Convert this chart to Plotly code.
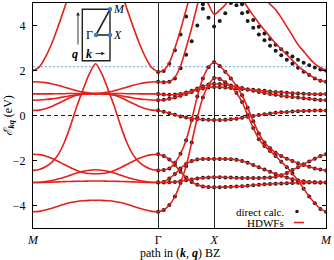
import numpy as np
import plotly.graph_objects as go

# ---------------- path geometry (|MΓ| : |ΓX| : |XM| = √5 : 1 : 2) -------------
K_GAMMA = 5 ** 0.5
K_X = K_GAMMA + 1.0
K_M = K_X + 2.0
tick_vals = [0.0, K_GAMMA, K_X, K_M]
tick_text = ["<i>M</i>", "Γ", "<i>X</i>", "<i>M</i>"]
y_ticks = [-4, -2, 0, 2, 4]
E_BLUE_LINE = 2.17

# sampling grids along the path
k_left = np.linspace(0.0, K_GAMMA, 21)                       # M -> Γ
k_right = np.concatenate([np.linspace(K_GAMMA, K_X, 11),
                          np.linspace(K_X, K_M, 21)[1:]])     # Γ -> X -> M

# ---------------- HDWF bands, M -> Γ segment (eV) -------------------------
L_B1 = [2.0, 2.15, 2.6, 3.2, 3.95, 4.75, 5.6, 6.3, 6.8, 7.1, 7.2, 7.1, 6.8, 6.3, 5.6, 4.75, 3.95, 3.2, 2.58, 2.12, 1.93]
L_B2 = [-2.44, -2.4, -2.28, -2.08, -1.75, -1.2, -0.45, 0.4, 1.15, 1.85, 2.3, 1.85, 1.15, 0.4, -0.45, -1.2, -1.75, -2.08, -2.28, -2.4, -2.44]
L_C1 = [1.5, 1.49, 1.46, 1.41, 1.34, 1.26, 1.18, 1.1, 1.04, 1.0, 0.99, 1.0, 1.04, 1.1, 1.18, 1.26, 1.34, 1.41, 1.46, 1.49, 1.5]
L_C2 = [0.96, 0.96, 0.96, 0.96, 0.97, 0.97, 0.98, 0.98, 0.98, 0.98, 0.98, 0.98, 0.98, 0.98, 0.98, 0.97, 0.97, 0.96, 0.96, 0.96, 0.96]
L_C3 = [0.68, 0.69, 0.71, 0.74, 0.78, 0.83, 0.88, 0.92, 0.95, 0.96, 0.96, 0.96, 0.95, 0.92, 0.88, 0.83, 0.78, 0.74, 0.71, 0.69, 0.68]
L_C4 = [0.22, 0.24, 0.3, 0.4, 0.53, 0.67, 0.8, 0.9, 0.95, 0.96, 0.96, 0.96, 0.95, 0.9, 0.8, 0.67, 0.53, 0.4, 0.3, 0.24, 0.22]
L_D1 = [-1.72, -1.74, -1.8, -1.9, -2.03, -2.18, -2.32, -2.44, -2.53, -2.58, -2.59, -2.58, -2.53, -2.44, -2.32, -2.18, -2.03, -1.9, -1.8, -1.74, -1.72]
L_D2 = [-2.98, -2.97, -2.94, -2.89, -2.82, -2.74, -2.65, -2.56, -2.48, -2.43, -2.41, -2.43, -2.48, -2.56, -2.65, -2.74, -2.82, -2.89, -2.94, -2.97, -2.98]
L_D3 = [-2.98, -2.98, -2.97, -2.96, -2.95, -2.94, -2.93, -2.92, -2.92, -2.91, -2.91, -2.91, -2.92, -2.92, -2.93, -2.94, -2.95, -2.96, -2.97, -2.98, -2.98]
L_D4 = [-4.28, -4.26, -4.2, -4.12, -4.03, -3.94, -3.87, -3.82, -3.79, -3.77, -3.77, -3.77, -3.79, -3.82, -3.87, -3.94, -4.03, -4.12, -4.2, -4.26, -4.28]

# ---------------- HDWF bands, Γ -> X -> M segment (eV) ---------------------
R_B1 = [1.93, 2.0, 2.35, 3.0, 3.8, 4.7, 5.6, 6.4, 7.0, 7.4, 7.5, 7.4, 7.2, 6.9, 6.6, 6.3, 6.0, 5.7, 5.45, 5.2, 4.95, 4.7, 4.35, 3.95, 3.55, 3.15, 2.85, 2.55, 2.3, 2.12, 2.0]
R_C1 = [1.5, 1.48, 1.5, 1.7, 2.2, 3.0, 3.9, 4.9, 5.8, 6.5, 6.8, 6.7, 6.4, 6.0, 5.6, 5.2, 4.8, 4.45, 4.1, 3.8, 3.5, 3.2, 2.95, 2.7, 2.45, 2.2, 2.0, 1.82, 1.66, 1.55, 1.5]
R_B2 = [-2.44, -2.42, -2.35, -2.1, -1.7, -1.1, -0.2, 0.85, 1.65, 2.15, 2.37, 2.2, 1.95, 1.65, 1.3, 0.9, 0.35, -0.25, -0.8, -1.2, -1.45, -1.65, -1.8, -1.92, -2.02, -2.12, -2.2, -2.28, -2.35, -2.4, -2.44]
R_D4 = [-4.28, -4.2, -3.98, -3.6, -3.0, -2.25, -1.2, -0.1, 0.8, 1.35, 1.67, 1.62, 1.48, 1.3, 1.0, 0.6, 0.02, -0.55, -1.05, -1.35, -1.58, -1.8, -2.05, -2.3, -2.58, -2.9, -3.25, -3.6, -3.9, -4.15, -4.28]
R_C2 = [0.96, 0.93, 0.92, 0.93, 0.96, 1.02, 1.1, 1.2, 1.3, 1.38, 1.41, 1.4, 1.37, 1.33, 1.28, 1.22, 1.16, 1.1, 1.05, 1.0, 0.96, 0.92, 0.88, 0.85, 0.82, 0.8, 0.77, 0.74, 0.71, 0.69, 0.68]
R_C3 = [0.68, 0.7, 0.74, 0.8, 0.88, 0.96, 1.05, 1.13, 1.2, 1.25, 1.27, 1.26, 1.24, 1.22, 1.2, 1.18, 1.16, 1.14, 1.12, 1.1, 1.07, 1.05, 1.03, 1.01, 0.99, 0.98, 0.97, 0.96, 0.95, 0.95, 0.96]
R_C4 = [0.22, 0.17, 0.1, 0.03, -0.04, -0.09, -0.13, -0.16, -0.18, -0.19, -0.2, -0.2, -0.19, -0.17, -0.14, -0.1, -0.06, -0.02, 0.02, 0.06, 0.09, 0.12, 0.14, 0.16, 0.18, 0.19, 0.2, 0.21, 0.22, 0.22, 0.22]
R_D1 = [-1.72, -1.8, -1.95, -2.2, -2.5, -2.75, -2.95, -3.08, -3.15, -3.18, -3.19, -3.19, -3.18, -3.17, -3.16, -3.14, -3.12, -3.1, -3.08, -3.06, -3.04, -3.03, -3.02, -3.01, -3.0, -2.99, -2.99, -2.98, -2.98, -2.98, -2.98]
R_D2 = [-2.98, -2.95, -2.8, -2.6, -2.35, -2.15, -2.02, -1.96, -1.93, -1.93, -1.93, -1.93, -1.93, -1.94, -1.97, -2.02, -2.1, -2.2, -2.3, -2.4, -2.5, -2.6, -2.68, -2.76, -2.83, -2.88, -2.92, -2.95, -2.97, -2.98, -2.98]
R_D3 = [-2.98, -2.98, -2.97, -2.95, -2.92, -2.88, -2.84, -2.8, -2.77, -2.75, -2.74, -2.74, -2.75, -2.76, -2.77, -2.78, -2.78, -2.78, -2.78, -2.77, -2.75, -2.72, -2.65, -2.55, -2.42, -2.3, -2.17, -2.04, -1.92, -1.8, -1.72]
# narrow band with a minimum at X (indices 7..14 of the Γ-X-M grid)
U_IDX = slice(7, 15)
R_U = [6.2, 5.5, 4.95, 4.5, 4.68, 4.92, 5.4, 6.0]

# ---------------- direct calculation where it departs from HDWFs ----------
DIR_B1 = [1.93, 1.98, 2.3, 2.9, 3.6, 4.4, 5.2, 5.9, 6.3, 6.4, 6.3, 6.2, 6.0, 5.7, 5.3, 4.95, 4.6, 4.25, 3.95, 3.65, 3.4, 3.15, 2.95, 2.78, 2.62, 2.48, 2.35, 2.23, 2.13, 2.05, 2.0]
DIR_C1 = [1.5, 1.48, 1.5, 1.65, 2.1, 2.7, 3.3, 4.0, 4.75, 5.4, 6.0, 5.9, 5.6, 5.25, 4.9, 4.55, 4.2, 3.9, 3.6, 3.35, 3.1, 2.88, 2.68, 2.48, 2.3, 2.12, 1.95, 1.8, 1.65, 1.55, 1.5]
DIR_U = [5.4, 4.95, 4.35, 3.96, 4.2, 4.55, 5.0, 5.4]

left_bands = [L_B1, L_B2, L_C1, L_C2, L_C3, L_C4, L_D1, L_D2, L_D3, L_D4]
right_bands = [R_B1, R_C1, R_B2, R_D4, R_C2, R_C3, R_C4, R_D1, R_D2, R_D3]
direct_bands = [DIR_B1, DIR_C1, R_B2, R_D4, R_C2, R_C3, R_C4, R_D1, R_D2, R_D3]

RED = "#e3201b"
DOT = "#1a1a1a"
BLUE = "#3b7dc4"
FONT = "Liberation Serif"

fig = go.Figure()

# direct calc. dots (under the lines)
for band in direct_bands:
    fig.add_trace(go.Scatter(x=k_right, y=band, mode="markers",
                             marker=dict(color=DOT, size=4), showlegend=False,
                             cliponaxis=True, hoverinfo="skip"))
fig.add_trace(go.Scatter(x=k_right[U_IDX], y=DIR_U, mode="markers",
                         marker=dict(color=DOT, size=4), showlegend=False, hoverinfo="skip"))

# HDWF lines
line_style = dict(color=RED, width=1.6, shape="spline", smoothing=0.8)
for band in left_bands:
    fig.add_trace(go.Scatter(x=k_left, y=band, mode="lines", line=line_style,
                             showlegend=False, hoverinfo="skip"))
for band in right_bands:
    fig.add_trace(go.Scatter(x=k_right, y=band, mode="lines", line=line_style,
                             showlegend=False, hoverinfo="skip"))
fig.add_trace(go.Scatter(x=k_right[U_IDX], y=R_U, mode="lines", line=line_style,
                         showlegend=False, hoverinfo="skip"))

# ---------------- shapes: reference lines, inset, legend samples ----------
def dom(px, py):
    return ((px - 33) / 293.0, (228 - py) / 225.0)

shapes = []
shapes.append(dict(type="line", xref="x domain", yref="y", x0=0, x1=1, y0=0, y1=0, layer="below",
                   line=dict(color="black", width=0.9, dash="4px,3px")))
shapes.append(dict(type="line", xref="x domain", yref="y", x0=0, x1=1, y0=E_BLUE_LINE, y1=E_BLUE_LINE,
                   layer="below", line=dict(color="#8ab9e3", width=1.3, dash="2px,2px")))
rx0, ry0 = dom(82.3, 60.7)
rx1, ry1 = dom(110, 9.3)
shapes.append(dict(type="rect", xref="x domain", yref="y domain", x0=rx0, x1=rx1, y0=ry0, y1=ry1,
                   line=dict(color="#222", width=1.4), fillcolor="rgba(0,0,0,0)"))
gx, gy = dom(96, 35)
xx, xy = dom(110, 35)
mx, my = dom(110, 9.3)
shapes.append(dict(type="line", xref="x domain", yref="y domain", x0=gx, y0=gy, x1=xx, y1=xy,
                   line=dict(color="#222", width=1.6)))
shapes.append(dict(type="line", xref="x domain", yref="y domain", x0=gx, y0=gy, x1=mx, y1=my,
                   line=dict(color="#222", width=1.6)))
for (px_, py_) in [(gx, gy), (xx, xy), (mx, my)]:
    shapes.append(dict(type="circle", xref="x domain", yref="y domain",
                       x0=px_ - 2.2 / 293, x1=px_ + 2.2 / 293, y0=py_ - 2.2 / 225, y1=py_ + 2.2 / 225,
                       fillcolor=BLUE, line=dict(width=0)))
lx0, ly0 = dom(297, 211.5)
shapes.append(dict(type="circle", xref="x domain", yref="y domain",
                   x0=lx0 - 1.8 / 293, x1=lx0 + 1.8 / 293, y0=ly0 - 1.8 / 225, y1=ly0 + 1.8 / 225,
                   fillcolor=DOT, line=dict(width=0)))
la, lb = dom(294, 222.5)
lc, _ = dom(304, 222.5)
shapes.append(dict(type="line", xref="x domain", yref="y domain", x0=la, x1=lc, y0=lb, y1=lb,
                   line=dict(color=RED, width=1.6)))

annotations = []
def text(px, py, s, size=12, anchor="center"):
    x, y = dom(px, py)
    annotations.append(dict(xref="x domain", yref="y domain", x=x, y=y, text=s, showarrow=False,
                            xanchor=anchor, yanchor="middle", font=dict(family=FONT, size=size, color="black")))

text(89.5, 35, "Γ", 12)
text(117.5, 35, "<i>X</i>", 12)
text(119, 9.5, "<i>M</i>", 12)
text(75, 53.5, "<b><i>q</i></b>", 12)
text(89, 53.5, "<b><i>k</i></b>", 12)
text(286, 211.5, "direct calc.", 11, "right")
text(286, 222.5, "HDWFs", 11, "right")

# arrows of the inset
ax_h, ay_h = dom(78, 12)
annotations.append(dict(xref="x domain", yref="y domain", x=ax_h, y=ay_h, ax=0, ay=34,
                        showarrow=True, arrowhead=2, arrowsize=0.8, arrowwidth=0.9, arrowcolor="#222", text=""))
bx_h, by_h = dom(105, 53.5)
annotations.append(dict(xref="x domain", yref="y domain", x=bx_h, y=by_h, ax=-11, ay=0,
                        showarrow=True, arrowhead=2, arrowsize=0.8, arrowwidth=0.9, arrowcolor="#222", text=""))

# axis titles
annotations.append(dict(xref="paper", yref="paper", x=(180 - 33) / 293.0, y=(228 - 253) / 225.0,
                        text="path in (<b><i>k</i></b>, <b><i>q</i></b>) BZ", showarrow=False,
                        xanchor="center", yanchor="middle", font=dict(family=FONT, size=12, color="black")))
annotations.append(dict(xref="paper", yref="paper", x=(8 - 33) / 293.0, y=0.5,
                        text="<i>ℰ</i><sub><b><i>kq</i></b></sub> (eV)", showarrow=False, textangle=-90,
                        xanchor="center", yanchor="middle", font=dict(family=FONT, size=12, color="black")))

fig.update_layout(
    width=334, height=260,
    margin=dict(l=33, r=8, t=3, b=32),
    paper_bgcolor="white", plot_bgcolor="white",
    shapes=shapes, annotations=annotations,
    showlegend=False,
    font=dict(family=FONT, size=12, color="black"),
)
fig.update_xaxes(range=[0, K_M], tickvals=tick_vals, ticktext=tick_text, ticks="",
                 showgrid=True, gridcolor="#222", gridwidth=1, zeroline=False,
                 showline=True, linecolor="black", linewidth=1.2, mirror=True,
                 tickfont=dict(family=FONT, size=12), ticklabelstandoff=0)
fig.update_yaxes(range=[-5, 5], tickvals=y_ticks, ticks="inside", ticklen=4, tickcolor="black",
                 showgrid=False, zeroline=False, showline=True, linecolor="black", linewidth=1.2,
                 mirror="ticks", tickfont=dict(family=FONT, size=12), ticklabelstandoff=4)

fig.write_html("out.html", config={"displayModeBar": False},
               post_script="document.body.style.margin='0';")
